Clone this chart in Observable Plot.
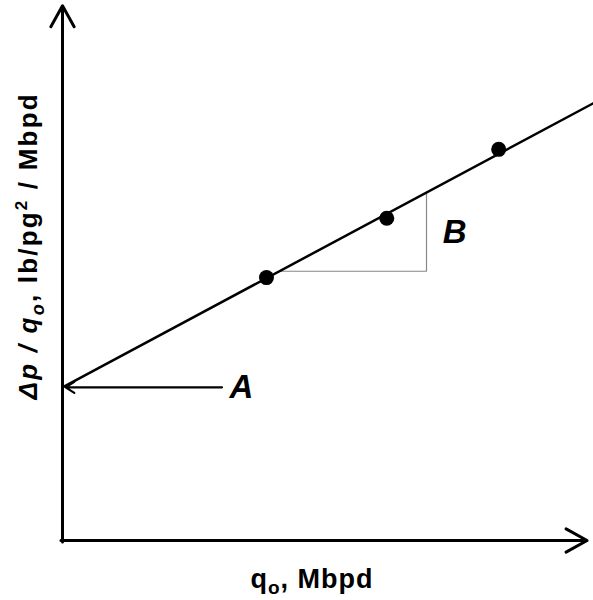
<!DOCTYPE html>
<html><head><meta charset="utf-8">
<script src="https://cdn.jsdelivr.net/npm/d3@7"></script>
<script src="https://cdn.jsdelivr.net/npm/@observablehq/plot@0.6"></script>
<style>body{margin:0;background:#fff;} svg{display:block;}</style>
</head><body><div id="chart"></div>
<script>
// Data (abstract units; no tick values in the reference)
const xDomain = [0, 10];
const yDomain = [0, 10];
const pointsX = [3.90, 6.20, 8.34];
const pointsY = [4.96, 6.08, 7.38];
const lineX = [0, 10.15];
const lineY = [2.89, 8.25];
const triX = [4.15, 6.96, 6.96];
const triY = [5.08, 5.08, 6.56];
const arrowA = {x1: 3.05, x2: 0.06, y: 2.89};
const labelA = {x: 3.42, y: 2.89, text: "A"};
const labelB = {x: 7.50, y: 5.81, text: "B"};
const axisX = {x1: -0.03, x2: 10.03, y: 0};
const axisY = {x: 0, y1: -0.03, y2: 10.09};
const xLabel = {x: 4.76, y: -0.74, text: "XLABEL"};
const yLabel = {x: -0.64, y: 5.54, text: "YLABEL"};

const points = pointsX.map((x, i) => ({x, y: pointsY[i]}));
const line = lineX.map((x, i) => ({x, y: lineY[i]}));
const tri = triX.map((x, i) => ({x, y: triY[i]}));

const svg = Plot.plot({
  width: 593, height: 600,
  marginLeft: 62, marginRight: 8, marginTop: 10, marginBottom: 60,
  x: {domain: xDomain, axis: null},
  y: {domain: yDomain, axis: null},
  style: {fontFamily: "'Liberation Sans', Arial, sans-serif", background: "white"},
  marks: [
    Plot.line(tri, {x: "x", y: "y", stroke: "#888", strokeWidth: 1.2}),
    Plot.line(line, {x: "x", y: "y", stroke: "black", strokeWidth: 2.5}),
    Plot.dot(points, {x: "x", y: "y", r: 7.5, fill: "black"}),
    Plot.arrow([axisX], {x1: "x1", x2: "x2", y1: "y", y2: "y", stroke: "black", strokeWidth: 3, headLength: 12, headAngle: 58}),
    Plot.arrow([axisY], {x1: "x", x2: "x", y1: "y1", y2: "y2", stroke: "black", strokeWidth: 3, headLength: 12, headAngle: 58}),
    Plot.arrow([arrowA], {x1: "x1", x2: "x2", y1: "y", y2: "y", stroke: "black", strokeWidth: 2.2, headLength: 7, headAngle: 65}),
    Plot.text([labelA, labelB], {x: "x", y: "y", text: "text", fontSize: 33, fontWeight: "bold", fontStyle: "italic", fill: "black"}),
    Plot.text([xLabel], {x: "x", y: "y", text: "text", fontSize: 27, fontWeight: "bold", fill: "black"}),
    Plot.text([yLabel], {x: "x", y: "y", text: "text", fontSize: 26, fontWeight: "bold", rotate: -90, fill: "black"})
  ]
});

d3.select(svg).selectAll("text").each(function() {
  const t = this.textContent;
  const sel = d3.select(this);
  if (t === "XLABEL") {
    sel.text("").attr("textLength", 122).attr("lengthAdjust", "spacing");
    sel.append("tspan").text("q");
    sel.append("tspan").attr("dy", 6).attr("font-size", 19).text("o");
    sel.append("tspan").attr("dy", -6).text(", Mbpd");
  } else if (t === "YLABEL") {
    sel.text("").attr("textLength", 305).attr("lengthAdjust", "spacing");
    sel.append("tspan").attr("font-style", "italic").text("Δp / q");
    sel.append("tspan").attr("dy", 7).attr("font-size", 18).attr("font-style", "italic").text("o");
    sel.append("tspan").attr("dy", -7).text(", lb/pg");
    sel.append("tspan").attr("dy", -10).attr("font-size", 17).text("2");
    sel.append("tspan").attr("dy", 10).text(" / Mbpd");
  }
});

document.getElementById("chart").appendChild(svg);
</script>
</body></html>
